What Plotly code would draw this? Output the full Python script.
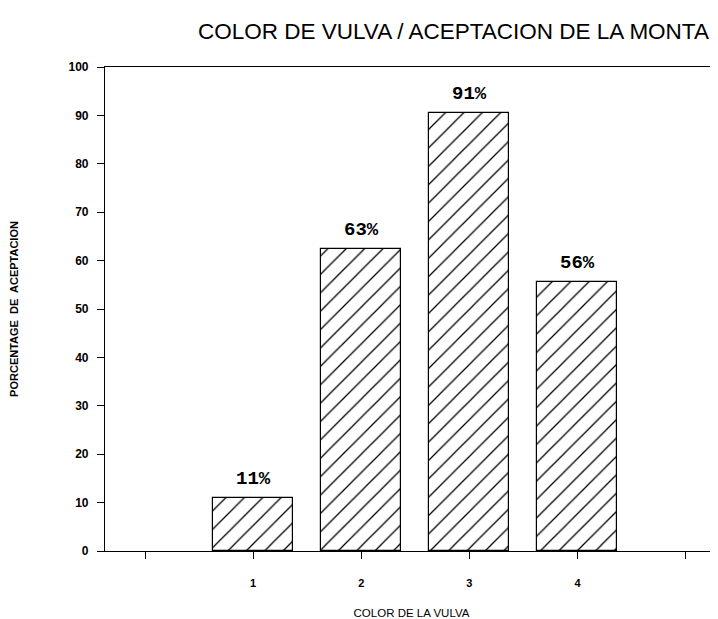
import plotly.graph_objects as go

categories = [1, 2, 3, 4]
values = [11, 62.5, 90.5, 55.5]
labels = ["11%", "63%", "91%", "56%"]
y_ticks = [0, 10, 20, 30, 40, 50, 60, 70, 80, 90, 100]
x_ticks = [0, 1, 2, 3, 4, 5]
x_ticklabels = ["", "1", "2", "3", "4", ""]
title_text = "COLOR DE VULVA / ACEPTACION DE LA MONTA"

fig = go.Figure()
fig.add_trace(go.Bar(
    x=categories, y=values, width=0.74,
    marker=dict(color="white", line=dict(color="black", width=1.2),
                pattern=dict(shape="/", fgcolor="black", bgcolor="white", fgopacity=1, size=13, solidity=0.1)),
    showlegend=False,
))
for c, v, t in zip(categories, values, labels):
    fig.add_annotation(x=c, y=v, text=t, showarrow=False, yanchor="bottom", yshift=6,
                       font=dict(family="Liberation Mono", size=19, color="black", weight=600))

fig.add_annotation(xref="paper", yref="paper", x=(453 - 105) / 613, y=1 + (67 - 31) / 484,
                   text=title_text, showarrow=False, xanchor="center", yanchor="middle",
                   font=dict(family="Liberation Sans", size=22.5, color="black"))

fig.update_layout(
    width=710, height=611,
    margin=dict(l=97, r=0, t=59, b=68, autoexpand=False),
    paper_bgcolor="white", plot_bgcolor="white",
    font=dict(family="Liberation Sans", color="black"),
    bargap=0,
)
fig.update_xaxes(range=[-0.37, 5.3], tickvals=x_ticks, ticktext=x_ticklabels, automargin=False,
                 showgrid=False, zeroline=False, showline=True, linecolor="black", linewidth=1.2, mirror=True,
                 ticks="outside", ticklen=7, tickcolor="black", ticklabelstandoff=15,
                 tickfont=dict(size=11, family="Liberation Sans", weight=600),
                 title=dict(text="COLOR DE LA VULVA", standoff=21,
                            font=dict(size=11.5, family="Liberation Sans")))
fig.update_yaxes(range=[0, 100], tickvals=y_ticks, showgrid=False, zeroline=False, automargin=False,
                 showline=True, linecolor="black", linewidth=1.2,
                 ticks="outside", ticklen=7, tickcolor="black", ticklabelstandoff=6,
                 tickfont=dict(size=12, family="Liberation Sans", weight=600),
                 title=dict(text="<b>PORCENTAGE  DE  ACEPTACION</b>", standoff=55,
                            font=dict(size=11, family="Liberation Sans")))

fig.write_html("out.html")
